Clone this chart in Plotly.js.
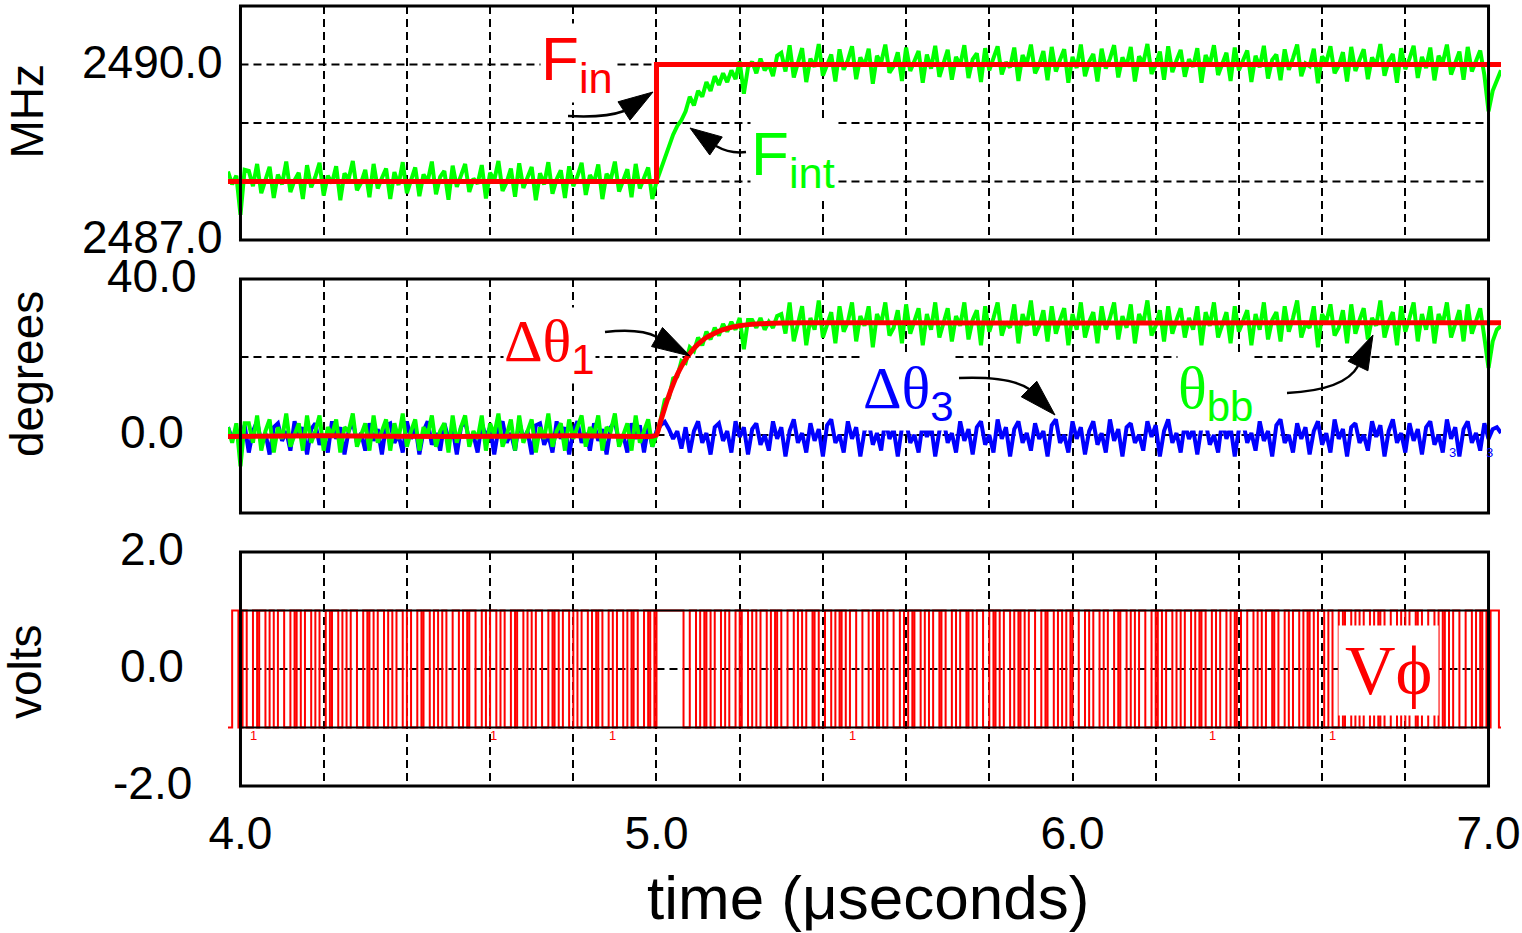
<!DOCTYPE html>
<html>
<head>
<meta charset="utf-8">
<script src="https://cdn.plot.ly/plotly-3.0.1.min.js"></script>
<style>
html,body{margin:0;padding:0;background:#fff;}
#chart{width:1522px;height:933px;}
</style>
</head>
<body>
<div id="chart"></div>
<script>
// ---------------- DATA ----------------
// sampled traces: uniform time grid (µs)
const T_START = 3.97;
const T_STEP = 0.01;

// F_int (MHz), green, top panel
const F_INT_MHZ = [
2488.17,2487.95,2488.1,2487.43,2488.2,
2488.18,2487.92,2488.3,2487.8,2488.05,2488.25,2487.72,2488.12,2487.95,2488.34,2487.82,2488.02,2488.15,2487.7,2488.28,2487.9,2488.08,2488.32,2487.76,2488.1,
2487.97,2488.26,2487.68,2488.14,2488.04,2488.35,2487.85,2487.98,2488.2,2487.73,2488.3,2487.88,2488.06,2488.22,2487.7,2488.16,2487.94,2488.33,2487.8,2488.03,
2488.24,2487.75,2488.12,2488,2488.34,2487.78,2488.08,2488.18,2487.69,2488.27,2487.91,2488.1,2488.3,2487.82,2488.05,2487.96,2488.28,2487.71,2488.15,2488.02,
2488.35,2487.84,2487.99,2488.22,2487.74,2488.31,2487.89,2488.07,2488.25,2487.68,2488.14,2487.95,2488.33,2487.79,2488.04,2488.19,2487.72,2488.26,2487.92,2488.09,
2488.32,2487.77,2488.11,2487.98,2488.29,2487.7,2488.13,2488.03,2488.34,2487.83,2488,2488.21,2487.73,2488.3,2487.88,2488.06,2488.24,2487.7,
2488.0,2488.2,2488.4,2488.65,2488.8,2488.95,2489.05,2489.2,2489.45,2489.3,2489.55,2489.45,2489.7,2489.55,2489.8,2489.65,2489.85,2489.7,2489.9,2489.75,2490.05,2489.5,2489.95,
2490.05,2489.85,2490.1,2489.9,2490.0,2489.8,2490.15,
2490.2,2489.88,2490.33,2489.78,2490.06,2490.28,2489.7,2490.1,2489.96,2490.35,2489.81,2490.01,2490.17,2489.71,2490.26,2489.91,2490.07,2490.31,2489.75,2490.12,
2489.98,2490.27,2489.67,2490.15,2490.03,2490.34,2489.86,2489.97,2490.21,2489.72,2490.29,2489.89,2490.05,2490.23,2489.69,2490.17,2489.93,2490.32,2489.79,2490.02,
2490.25,2489.74,2490.13,2489.99,2490.33,2489.77,2490.09,2490.19,2489.7,2490.28,2489.9,2490.11,2490.31,2489.83,2490.04,2489.95,2490.29,2489.72,2490.16,2490.01,
2490.34,2489.85,2490,2490.23,2489.73,2490.3,2489.88,2490.08,2490.26,2489.69,2490.13,2489.94,2490.34,2489.8,2490.05,2490.18,2489.71,2490.27,2489.93,2490.1,
2490.33,2489.78,2490.12,2489.97,2490.3,2489.71,2490.14,2490.02,2490.35,2489.84,2489.99,2490.22,2489.74,2490.31,2489.87,2490.07,2490.25,2489.79,2490.09,2489.96,
2490.28,2489.69,2490.16,2490,2490.33,2489.82,2490.03,2490.2,2489.72,2490.29,2489.9,2490.06,2490.24,2489.7,2490.15,2489.95,2490.32,2489.76,2490.08,2490.17,
2489.73,2490.26,2489.91,2490.11,2490.34,2489.8,2490.02,2489.97,2490.27,2489.68,2490.14,2490.04,2490.31,2489.85,2489.98,2490.21,2489.71,2490.3,2489.89,2490.08,
2490.26,2489.75,2490.12,2489.99,2490.35,2489.81,2490.06,2490.18,2489.69,2490.28,2489.92,2490.1,2490.32,2489.77,2490.13,2489.94,2490.29,2489.73,2490.15,2490.03,
2490.34,2489.83,2490.01,2490.22,2489.74,2490.3,2489.88,2490.07,2490.24,2489.82,
2489.2,2489.55,2489.75,2489.9
];

// F_in (MHz), red step, top panel
const F_IN_T = [3.97, 5.0, 7.03];
const F_IN_MHZ = [2488.0, 2490.0, 2490.0];

// theta_bb (degrees), green, middle panel
const THETA_BB_DEG = [
2,-2,3,-8,3,
3,-2,5,-4,1,4,-4.5,2,-1,5.5,-3,0,3,-4,5,-2,1,5,-4,2,
0,4,-4.5,2,1,5.5,-3,0,3,-4,5,-2,1,4,-4,3,-1,5.5,-3,1,
4,-4,2,0,5,-3,1,3,-4.5,5,-2,2,5,-3,1,-1,5,-4,3,0,
5.5,-3,0,4,-4,5,-2,1,4,-4.5,2,-1,5.5,-3,1,3,-4,4,-1,2,
5,-3,2,0,5,-4,2,1,5.5,-3,0,3,-4,5,-2,1,4,-3,
0,4,9,9.5,14.5,15,19,18.5,22.5,21.5,25,23,26.5,24.5,27.5,25.5,28.5,26.5,29,27,30,22,29.5,
29.5,27.5,30,27,29,27.5,30.5,
31,26,34,24,29,33,23,30,27,34.5,25,28.5,31.5,23.5,33,26.5,29,34,24,30.5,
28,33,22.5,31,28.5,34,25.5,27.5,32,23.5,33.5,26,29.5,32.5,23,31,27,34,25,28.5,
32.5,24,30.5,28,34,24.5,29.5,32,23,33,26.5,30,34,25.5,29,27.5,33.5,23.5,31,28,
34.5,25.5,28,32,24,33,26,29.5,32.5,23,31,27,34,25,29,31.5,23.5,33,27,30,
34,24.5,30.5,27.5,33.5,23.5,31,28.5,34.5,25.5,28,32,24,33,26,29.5,32.5,25,30,27,
33,23,31.5,28,34,25,28.5,31.5,23.5,33,26.5,29,32,23,31,27,34,24.5,29.5,31.5,
24,33,26.5,30,34.5,25,28.5,27.5,33,22.5,31,29,33.5,25.5,27.5,32,23.5,33.5,26,29.5,
32.5,24.5,30,28,34.5,25,29,31.5,23,33,26.5,30,34,24,31,27,33,23.5,31,28.5,
34,25,28.5,32,24,33.5,26,29.5,32.5,25,
17.2,24,27,28
];

// delta theta_3 (degrees), blue, middle panel
const DTHETA3_DEG = [
2,-1,1.5,-3,2.5,-4.5,1,3.5,-2,0.5,-5,2,3,-1.5,1,-4,3.5,-0.5,2,-5,
1.5,3,-2.5,0,-4.5,3.5,-1,2,-5,1,3.5,-2,0.5,-4,3,-1.5,1.5,-5,2.5,3,
-2,0,-4.5,3.5,-1,2.5,-5,1,3.5,-2.5,0.5,-4,3,-1,1.5,-5,2,3.5,-1.5,0,
-4.5,3,-0.5,2,-5,1.5,3.5,-2,0.5,-4,3.5,-1,1,-5,2.5,3,-2.5,0,-4.5,3.5,
-1,2,-5,1,3.5,-2,0.5,-4,3,-1.5,1.5,-5,2,3.5,-2,0,-4.5,3,-1,2.5,
-4.5,2,-3,1,2.5,3.4,1.5,-1,1,-3.5,2,-4.5,1,3.5,-2,0.5,-5,2,3,-1.5,
1,-4.5,3.5,-0.5,2,-5,1.5,3,-2.5,0,-4,3.5,-1,2,-5.5,1,4,-2,0.5,-4.5,
3,-1.5,1.5,-5.5,2.5,4,-2,0,-4.5,3.5,-1,2,-5.5,1,3.5,-2.5,0.5,-4,4,-1,
1.5,-5.5,2,3.5,-2,0,-4.5,3,-0.5,2.5,-5.5,1,4,-2,0.5,-4.5,3.5,-1.5,1.5,-5,
2,3.5,-2.5,0,-4.5,4,-1,2,-5.5,1.5,3.5,-2,0.5,-4,3,-1,1,-5.5,2.5,4,
-2,0,-4.5,3.5,-1,2,-5,1,3.5,-2.5,0.5,-4.5,4,-1.5,1.5,-5.5,2,3,-2,0,
-4,3.5,-0.5,2.5,-5.5,1,4,-2,0.5,-4.5,3,-1,1.5,-5,2,3.5,-2.5,0,-4.5,4,
-1,2,-5.5,1.5,3.5,-2,0.5,-4,3.5,-1.5,1,-5.5,2.5,4,-2,0,-4.5,3,-1,2,
-5,1,3.5,-2.5,0.5,-4.5,4,-1,1.5,-5.5,2,3,-2,0,-4,3.5,-0.5,2.5,-5.5,1,
4,-2,0.5,-4.5,3,-1.5,1.5,-5,2,3.5,-2.5,0,-4.5,4,-1,2,-5.5,1.5,3.5,-2,
0.5,-4,3,-1,1.5,2,0.5
];

// delta theta_1 (degrees), red, middle panel
const DTHETA1_T = [3.97,4.2,4.5,4.8,4.99,5.0,5.01,5.02,5.03,5.04,5.05,5.06,5.07,5.08,5.09,5.10,5.11,5.12,5.13,5.14,5.15,5.16,5.17,5.18,5.19,5.20,5.22,5.25,5.30,5.40,5.6,6.0,6.5,7.03];
const DTHETA1_DEG = [-0.4,-0.2,-0.4,-0.2,-0.3,0,3.5,7,10.2,13,15.5,17.6,19.4,20.9,22.2,23.3,24.2,25.0,25.6,26.1,26.6,27.0,27.3,27.6,27.8,28.0,28.3,28.5,28.7,28.8,28.8,28.7,28.8,28.8];

// V_phi (volts): binary levels, 1 = +1 V, 0 = -1 V, sampled every VPHI_STEP µs
const VPHI_START = 3.97;
const VPHI_STEP = 0.005;
const VPHI_BITS =
"0011100110 0011011100 1100111000 1101100111 0011000110 1110011001 1100011011 0011100110 0111001100 0110111001 " +
"1001100011 1001101110 0011001110 0110001101 1100110011 1000110110 0111001100 1110011011 0001100111 0011011000 " +
"1101101111 1111111110 " +
"0011100110 1100111001 1000110111 0011001110 0110110001 1100110011 1011000111 0011011001 1100011100 " +
"1101100111 0001100110 1110011001 1101100011 0011101100 1110001101 1001110011 0110011100 0110111001 1001101110 " +
"0011001110 0110001101 1100110011 1000110110 0111001100 1110011011 0001100111 0011011000 1110011001 1101100011 " +
"0011100110 1100111001 1000110111 0011001110 0110110001 1100110011 1011000111 0011011001 1100011100 1101100111 " +
"100";
const VPHI_HIGH = 1.0, VPHI_LOW = -1.0;

// axes ticks
const X_TICKS = [4.0,4.2,4.4,4.6,4.8,5.0,5.2,5.4,5.6,5.8,6.0,6.2,6.4,6.6,6.8,7.0];
const X_TICK_LABELS = ['4.0','','','','','5.0','','','','','6.0','','','','','7.0'];
const Y1_TICKS = [2487, 2488, 2489, 2490, 2491];
const Y1_TICK_LABELS = ['2487.0','','','2490.0',''];
const Y2_TICKS = [-20, 0, 20, 40];
const Y2_TICK_LABELS = ['','0.0','','40.0'];
const Y3_TICKS = [-2, -1, 0, 1, 2];
const Y3_TICK_LABELS = ['-2.0','','0.0','','2.0'];

// ---------------- LAYOUT HELPERS ----------------
const W = 1522, H = 933;
const ML = 228, MR = 21, MT = 6, MB = 147;
const PW = W - ML - MR, PH = H - MT - MB;
const PX = px => (px - ML) / PW;          // pixel x -> paper
const PY = py => (H - MB - py) / PH;      // pixel y -> paper
const f5 = v => v.toFixed(5);

const vphiLevels = VPHI_BITS.replace(/\s/g, '').split('').map(b => b === '1' ? VPHI_HIGH : VPHI_LOW);

const RED = '#ff0000', GREEN = '#00ff00', BLUE = '#0000ff';
const GRID_DASH = '8px,5px';

const traces = [
  {x0: T_START, dx: T_STEP, y: F_INT_MHZ, mode: 'lines', line: {color: GREEN, width: 4}, xaxis: 'x', yaxis: 'y', hoverinfo: 'skip'},
  {x: F_IN_T, y: F_IN_MHZ, mode: 'lines', line: {color: RED, width: 5, shape: 'hv'}, xaxis: 'x', yaxis: 'y', hoverinfo: 'skip'},
  {x0: T_START, dx: T_STEP, y: DTHETA3_DEG, mode: 'lines', line: {color: BLUE, width: 4}, xaxis: 'x', yaxis: 'y2', hoverinfo: 'skip'},
  {x0: T_START, dx: T_STEP, y: THETA_BB_DEG, mode: 'lines', line: {color: GREEN, width: 4}, xaxis: 'x', yaxis: 'y2', hoverinfo: 'skip'},
  {x: DTHETA1_T, y: DTHETA1_DEG, mode: 'lines', line: {color: RED, width: 5, shape: 'spline', smoothing: 0.6}, xaxis: 'x', yaxis: 'y2', hoverinfo: 'skip'},
  {x0: VPHI_START, dx: VPHI_STEP, y: vphiLevels, mode: 'lines', line: {color: RED, width: 2, shape: 'hv'}, xaxis: 'x', yaxis: 'y3', hoverinfo: 'skip'}
];

// ---------------- SHAPES ----------------
const shapes = [];
const X_MIN = X_TICKS[0], X_MAX = X_TICKS[X_TICKS.length - 1];
function hGrid(ticks, yref, solidSet) {
  const lo = ticks[0], hi = ticks[ticks.length - 1];
  ticks.forEach(v => {
    if (v === lo || v === hi) return;
    const solid = solidSet && solidSet.includes(v);
    shapes.push({type: 'line', xref: 'x', yref: yref, x0: X_MIN, x1: X_MAX, y0: v, y1: v,
      line: {color: 'black', width: 2, dash: solid ? 'solid' : GRID_DASH}, layer: solid ? 'above' : 'between'});
  });
}
hGrid(Y1_TICKS, 'y');
hGrid(Y2_TICKS, 'y2');
hGrid(Y3_TICKS, 'y3', [-1, 1]);

['y domain', 'y2 domain', 'y3 domain'].forEach(r => {
  shapes.push({type: 'rect', xref: 'x', yref: r, x0: X_MIN, x1: X_MAX, y0: 0, y1: 1,
    line: {color: 'black', width: 3}, fillcolor: 'rgba(0,0,0,0)', layer: 'above'});
});

function arrow(tail, ctrl, base, tip, hw) {
  const tailPath = 'M' + f5(PX(tail[0])) + ',' + f5(PY(tail[1])) +
    ' Q' + f5(PX(ctrl[0])) + ',' + f5(PY(ctrl[1])) + ' ' + f5(PX(base[0])) + ',' + f5(PY(base[1]));
  const dx = tip[0] - base[0], dy = tip[1] - base[1];
  const L = Math.hypot(dx, dy);
  const nx = -dy / L * hw, ny = dx / L * hw;
  const head = 'M' + f5(PX(tip[0])) + ',' + f5(PY(tip[1])) +
    ' L' + f5(PX(base[0] + nx)) + ',' + f5(PY(base[1] + ny)) +
    ' L' + f5(PX(base[0] - nx)) + ',' + f5(PY(base[1] - ny)) + ' Z';
  shapes.push({type: 'path', xref: 'paper', yref: 'paper', path: tailPath, line: {color: 'black', width: 2.5}, fillcolor: 'rgba(0,0,0,0)', layer: 'above'});
  shapes.push({type: 'path', xref: 'paper', yref: 'paper', path: head, line: {color: 'black', width: 1}, fillcolor: 'black', layer: 'above'});
}
arrow([568, 116], [605, 118], [624, 111], [653, 92], 11);     // F_in
arrow([746, 152], [730, 154], [716, 146], [690, 128], 11);    // F_int
arrow([605, 332], [640, 328], [657, 337], [690, 356], 11);    // dtheta1
arrow([959, 378], [1010, 376], [1029, 389], [1055, 415], 11); // dtheta3
arrow([1287, 393], [1345, 390], [1358, 366], [1373, 335], 11);// theta_bb

// ---------------- ANNOTATIONS ----------------
const ann = [];
function tickAnn(ticks, labels, yref) {
  ticks.forEach((v, i) => {
    if (!labels[i]) return;
    ann.push({xref: 'paper', yref: yref, x: PX(152), y: v, text: labels[i], showarrow: false,
      xanchor: 'center', yanchor: 'middle', yshift: 3, font: {size: 46, color: 'black'}});
  });
}
tickAnn(Y1_TICKS, Y1_TICK_LABELS, 'y');
tickAnn(Y2_TICKS, Y2_TICK_LABELS, 'y2');
tickAnn(Y3_TICKS, Y3_TICK_LABELS, 'y3');

function pAnn(text, px, py, opts) {
  ann.push(Object.assign({xref: 'paper', yref: 'paper', x: PX(px), y: PY(py), text: text, showarrow: false,
    xanchor: 'center', yanchor: 'middle'}, opts));
}
// axis titles
pAnn('MHz', 27, 111.5, {textangle: -90, font: {size: 46, color: 'black'}});
pAnn('degrees', 27, 374, {textangle: -90, font: {size: 46, color: 'black'}});
pAnn('volts', 25, 672, {textangle: -90, font: {size: 46, color: 'black'}});
pAnn('time (μseconds)', 868, 897, {font: {size: 62, color: 'black'}});

// trace labels
const SERIF = 'Liberation Serif, DejaVu Serif, serif';
pAnn('F<sub>in</sub>', 577, 63, {font: {size: 62, color: RED}, bgcolor: 'white', borderpad: 0});
pAnn('F<sub>int</sub>', 793, 158, {font: {size: 62, color: GREEN}, bgcolor: 'white', borderpad: 0});
pAnn('<span style="font-family:' + SERIF + '">Δθ</span><sub>1</sub>', 549, 345, {font: {size: 60, color: RED}, bgcolor: 'white', borderpad: 0});
pAnn('<span style="font-family:' + SERIF + '">Δθ</span><sub>3</sub>', 908, 392, {font: {size: 60, color: BLUE}, bgcolor: 'white', borderpad: 0});
pAnn('<span style="font-family:' + SERIF + '">θ</span><sub>bb</sub>', 1215, 392, {font: {size: 60, color: GREEN}, bgcolor: 'white', borderpad: 0});
pAnn('Vϕ', 1388, 670, {font: {size: 70, color: RED, family: SERIF}, bgcolor: 'white', borderpad: 6});

// small plotting artifacts
[253, 493, 612, 852, 1212, 1332].forEach(px => pAnn('1', px, 735, {font: {size: 13, color: RED}}));
[1452, 1489].forEach(px => pAnn('3', px, 453, {font: {size: 13, color: BLUE}}));

const axY = {showgrid: false, zeroline: false, showticklabels: false, ticks: '', showline: false, anchor: 'x', fixedrange: true};

const layout = {
  width: W, height: H,
  margin: {l: ML, r: MR, t: MT, b: MB, pad: 0},
  paper_bgcolor: 'white', plot_bgcolor: 'white',
  font: {family: 'Liberation Sans, Arial, Helvetica, sans-serif', color: 'black', size: 46},
  showlegend: false,
  xaxis: {range: [3.97, 7.03], anchor: 'y3', tickmode: 'array', tickvals: X_TICKS, ticktext: X_TICK_LABELS,
    showgrid: true, gridcolor: 'black', gridwidth: 2, griddash: GRID_DASH, zeroline: false, showline: false,
    ticks: '', ticklabelstandoff: 16, tickfont: {size: 46, color: 'black'}, fixedrange: true},
  yaxis: Object.assign({domain: [0.7, 1], range: [2487, 2491]}, axY),
  yaxis2: Object.assign({domain: [0.35, 0.65], range: [-20, 40]}, axY),
  yaxis3: Object.assign({domain: [0, 0.3], range: [-2, 2]}, axY),
  shapes: shapes,
  annotations: ann
};

Plotly.newPlot('chart', traces, layout, {displayModeBar: false, staticPlot: true});
</script>
</body>
</html>
